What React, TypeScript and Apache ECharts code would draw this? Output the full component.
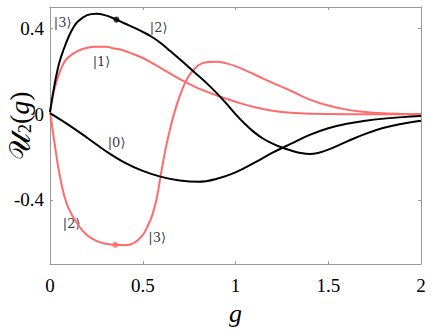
import React, { useEffect, useRef } from "react";
import * as echarts from "echarts";

const black1: [number, number][] = [
  [0, 0.01], [0.025, 0.14], [0.05, 0.24], [0.075, 0.305], [0.1, 0.36], [0.125, 0.403], [0.15, 0.432],
  [0.2, 0.462], [0.25, 0.469], [0.3, 0.461], [0.35, 0.444], [0.4, 0.424], [0.45, 0.405], [0.5, 0.384],
  [0.55, 0.36], [0.6, 0.33], [0.65, 0.293], [0.7, 0.256], [0.75, 0.218], [0.8, 0.179], [0.85, 0.14],
  [0.9, 0.097], [0.95, 0.05], [1.0, 0.0], [1.05, -0.045], [1.1, -0.084], [1.15, -0.115], [1.2, -0.138],
  [1.25, -0.156], [1.3, -0.17], [1.35, -0.181], [1.4, -0.186], [1.45, -0.18], [1.5, -0.166],
  [1.6, -0.128], [1.7, -0.092], [1.8, -0.064], [1.9, -0.045], [2.0, -0.031],
];
const black0: [number, number][] = [
  [0, 0.005], [0.1, -0.05], [0.2, -0.11], [0.3, -0.172], [0.4, -0.225], [0.5, -0.265], [0.6, -0.293],
  [0.7, -0.31], [0.8, -0.316], [0.9, -0.302], [1.0, -0.272], [1.1, -0.228], [1.2, -0.18], [1.3, -0.138],
  [1.4, -0.097], [1.5, -0.066], [1.6, -0.045], [1.7, -0.031], [1.8, -0.021], [1.9, -0.014], [2, -0.009],
];
const red1: [number, number][] = [
  [0, 0.01], [0.025, 0.12], [0.05, 0.19], [0.075, 0.24], [0.1, 0.266], [0.15, 0.295], [0.2, 0.31],
  [0.25, 0.315], [0.3, 0.314], [0.35, 0.306], [0.4, 0.296], [0.5, 0.262], [0.6, 0.214], [0.7, 0.163],
  [0.8, 0.12], [0.9, 0.087], [1.0, 0.058], [1.1, 0.033], [1.2, 0.016], [1.3, 0.006], [1.4, 0.002],
  [1.6, 0], [2, 0],
];
const red2: [number, number][] = [
  [0, 0.015], [0.025, -0.138], [0.05, -0.275], [0.075, -0.375], [0.1, -0.44], [0.15, -0.515],
  [0.2, -0.565], [0.25, -0.592], [0.3, -0.605], [0.35, -0.61], [0.4, -0.612], [0.45, -0.603],
  [0.5, -0.565], [0.525, -0.525], [0.55, -0.475], [0.575, -0.395], [0.6, -0.27], [0.625, -0.155],
  [0.65, -0.06], [0.675, 0.02], [0.7, 0.085], [0.725, 0.14], [0.75, 0.18], [0.8, 0.228], [0.85, 0.243],
  [0.9, 0.245], [0.95, 0.237], [1.0, 0.224], [1.1, 0.186], [1.2, 0.146], [1.3, 0.108], [1.4, 0.068],
  [1.5, 0.04], [1.6, 0.021], [1.7, 0.01], [1.8, 0.004], [1.9, 0.001], [2, 0],
];
const blackDot: [number, number][] = [[0.358, 0.441]];
const redDot: [number, number][] = [[0.352, -0.61]];
const ketLabels: [number, number, string][] = [
  [0.068, 0.432, "|3⟩"],
  [0.586, 0.41, "|2⟩"],
  [0.278, 0.249, "|1⟩"],
  [0.359, -0.129, "|0⟩"],
  [0.117, -0.508, "|2⟩"],
  [0.578, -0.57, "|3⟩"],
];
const yTicks = [-0.4, 0, 0.4];

const RED = "#ff6b6b";
const SERIF = "'Liberation Serif', 'DejaVu Serif', serif";

export default function App() {
  const ref = useRef<HTMLDivElement>(null);
  useEffect(() => {
    const chart = echarts.init(ref.current!, null, { renderer: "svg" });
    const axisLine = { show: true, onZero: false, lineStyle: { color: "#999", width: 1 } };
    const tick = { show: true, inside: true, length: 3, lineStyle: { color: "#999" } };
    chart.setOption({
      animation: false,
      grid: { left: 50, right: 15, top: 7, bottom: 55 },
      xAxis: [
        {
          type: "value", min: 0, max: 2, interval: 0.5,
          axisLine, axisTick: tick, splitLine: { show: false },
          axisLabel: { fontFamily: SERIF, fontSize: 19, color: "#000", margin: 12, formatter: (v: number) => String(v) },
          name: "g", nameLocation: "middle", nameGap: 31,
          nameTextStyle: { fontFamily: SERIF, fontStyle: "italic", fontSize: 26, color: "#000" },
        },
        {
          type: "value", min: 0, max: 2, interval: 0.5, position: "top",
          axisLine, axisTick: tick, axisLabel: { show: false }, splitLine: { show: false },
        },
      ],
      yAxis: [
        {
          type: "value", min: -0.7, max: 0.5,
          axisLine, splitLine: { show: false },
          axisTick: { ...tick, customValues: yTicks },
          axisLabel: {
            customValues: yTicks, fontFamily: SERIF, fontSize: 19, color: "#000", margin: 6,
            formatter: (v: number) => String(Math.round(v * 10) / 10),
          },
        },
        {
          type: "value", min: -0.7, max: 0.5, position: "right",
          axisLine, splitLine: { show: false },
          axisTick: { ...tick, customValues: yTicks },
          axisLabel: { show: false },
        },
      ],
      graphic: [
        {
          type: "text", x: 4, y: 160, rotation: Math.PI / 2,
          style: {
            text: "{u|𝒰}{s|2}{p|(}{g|g}{p|)}",
            rich: {
              u: { fontFamily: SERIF, fontSize: 30, fill: "#000" },
              s: { fontFamily: SERIF, fontSize: 18, fill: "#000", padding: [12, 0, 0, 0] },
              p: { fontFamily: SERIF, fontSize: 28, fill: "#000" },
              g: { fontFamily: SERIF, fontSize: 28, fontStyle: "italic", fill: "#000" },
            },
          },
        },
      ],
      series: [
        { type: "line", data: red1, smooth: 0.4, showSymbol: false, lineStyle: { color: RED, width: 2 } },
        { type: "line", data: red2, smooth: 0.4, showSymbol: false, lineStyle: { color: RED, width: 2 } },
        { type: "line", data: black1, smooth: 0.4, showSymbol: false, lineStyle: { color: "#000", width: 2 } },
        { type: "line", data: black0, smooth: 0.4, showSymbol: false, lineStyle: { color: "#000", width: 2 } },
        { type: "scatter", data: blackDot, symbolSize: 6, itemStyle: { color: "#000" } },
        { type: "scatter", data: redDot, symbolSize: 6, itemStyle: { color: RED } },
        {
          type: "scatter", symbolSize: 1,
          itemStyle: { color: "rgba(0,0,0,0)" },
          data: ketLabels.map((d) => ({ value: [d[0], d[1]], name: d[2] })),
          label: {
            show: true, position: "top", distance: -8, formatter: (p: any) => p.name,
            fontFamily: "'DejaVu Serif', serif", fontSize: 13, color: "#000",
          },
        },
      ],
    });
    return () => chart.dispose();
  }, []);
  return <div ref={ref} style={{ position: "absolute", left: 0, top: 0, width: 436, height: 331 }} />;
}
